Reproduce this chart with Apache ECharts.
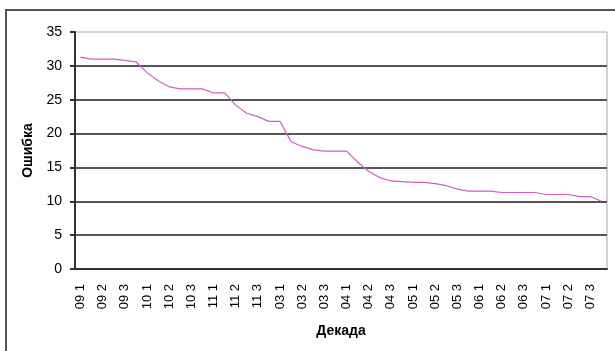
<!DOCTYPE html>
<html>
<head>
<meta charset="utf-8">
<style>
  html, body { margin: 0; padding: 0; background: #fff; }
  #chart { width: 615px; height: 351px; }
</style>
<script src="https://cdn.jsdelivr.net/npm/echarts@6/dist/echarts.min.js"></script>
</head>
<body>
<div id="chart"></div>
<script>
// Decade labels (month + decade number); each decade has two readings
const decades = [
  '09 1', '09 2', '09 3', '10 1', '10 2', '10 3', '11 1', '11 2', '11 3',
  '03 1', '03 2', '03 3', '04 1', '04 2', '04 3', '05 1', '05 2', '05 3',
  '06 1', '06 2', '06 3', '07 1', '07 2', '07 3'
];

// Error values, two per decade
const errorValues = [
  31.3, 31.0, 31.0, 31.0, 30.8, 30.6, 29.0, 27.8, 26.9, 26.6, 26.6, 26.6,
  26.0, 26.0, 24.2, 23.0, 22.5, 21.8, 21.8, 18.8, 18.1, 17.6, 17.4, 17.4,
  17.4, 15.8, 14.4, 13.5, 13.0, 12.9, 12.8, 12.8, 12.6, 12.3, 11.8, 11.5,
  11.5, 11.5, 11.3, 11.3, 11.3, 11.3, 11.0, 11.0, 11.0, 10.7, 10.7, 10.0
];

const yTicks = [0, 5, 10, 15, 20, 25, 30, 35];

// Only the first reading of each decade carries a label
const categories = decades.flatMap(d => [d, '']);

const chart = echarts.init(document.getElementById('chart'), null, { renderer: 'canvas' });

const fontFamily = 'Liberation Sans, Arial, sans-serif';

chart.setOption({
  animation: false,
  backgroundColor: '#fff',
  graphic: [{
    type: 'rect',
    silent: true,
    shape: { x: 6, y: 10, width: 700, height: 400 },
    style: { fill: 'none', stroke: '#555', lineWidth: 2 }
  }],
  grid: {
    left: 75, right: 8, top: 32, bottom: 82,
    show: true,
    borderColor: '#a8a8a8',
    borderWidth: 1
  },
  xAxis: {
    type: 'category',
    data: categories,
    boundaryGap: true,
    name: 'Декада',
    nameLocation: 'middle',
    nameGap: 55,
    nameTextStyle: { fontFamily, fontSize: 14, fontWeight: 'bold', color: '#000' },
    axisLine: { lineStyle: { color: '#333', width: 2 } },
    axisTick: { interval: 0, length: 5, lineStyle: { color: '#333', width: 2 } },
    axisLabel: {
      interval: 0,
      rotate: 90,
      margin: 15,
      fontFamily,
      fontSize: 13,
      color: '#000'
    },
    splitLine: { show: false }
  },
  yAxis: {
    type: 'value',
    min: yTicks[0],
    max: yTicks[yTicks.length - 1],
    interval: 5,
    name: 'Ошибка',
    nameLocation: 'middle',
    nameGap: 40,
    nameTextStyle: { fontFamily, fontSize: 14, fontWeight: 'bold', color: '#000' },
    axisLine: { show: true, lineStyle: { color: '#333', width: 2 } },
    axisTick: { show: true, length: 5, lineStyle: { color: '#333', width: 2 } },
    axisLabel: { margin: 13, fontFamily, fontSize: 14, color: '#000' },
    splitLine: {
      show: true,
      lineStyle: {
        color: ['#333', '#555', '#555', '#555', '#555', '#555', '#555', 'rgba(0,0,0,0)'],
        width: 2
      }
    }
  },
  series: [{
    type: 'line',
    data: errorValues,
    symbol: 'none',
    lineStyle: { color: '#cc5fc4', width: 1.2 },
    itemStyle: { color: '#cc5fc4' }
  }]
});
</script>
</body>
</html>
